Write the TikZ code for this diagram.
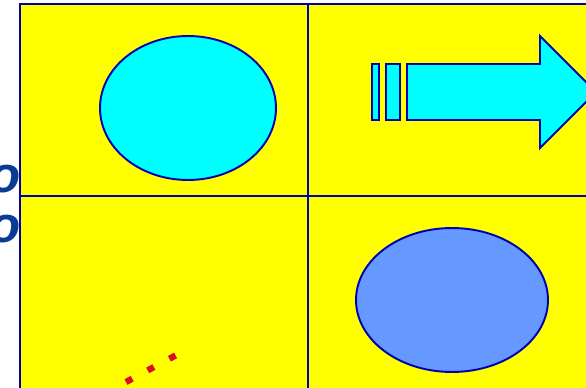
\documentclass[tikz,border=0pt]{standalone}
\usepackage{fontspec}
\newfontfamily\lblfont{Liberation Sans}
\usepackage{tikz}
\usetikzlibrary{shapes.geometric}
\definecolor{lineblue}{HTML}{0000B4}
\definecolor{txtblue}{HTML}{0A3C96}
\definecolor{panelyel}{HTML}{FFFF00}
\definecolor{aqua}{HTML}{00FFFF}
\definecolor{softblue}{HTML}{6699FF}
\definecolor{dotred}{HTML}{DC0A28}

\begin{document}
\begin{tikzpicture}[x=0.02cm, y=-0.02cm,
  edge/.style={draw=lineblue, line width=1.1pt},
  blob/.style={ellipse, edge, fill=#1, inner sep=0pt},
  let/.style={text=txtblue, font=\lblfont\bfseries\itshape\fontsize{29}{29}\selectfont, inner sep=0pt}]
\useasboundingbox (0,0) rectangle (586,388);
\clip (0,0) rectangle (586,388);
% panels
\fill[panelyel] (20,4) rectangle (600,400);
\draw[edge] (20,400) -- (20,4) -- (600,4);
\draw[edge] (308,4) -- (308,400);
\draw[edge] (20,196) -- (600,196);
% shapes
\node[blob=aqua, minimum width=3.52cm, minimum height=2.88cm] (oval) at (188,108) {};
\node[blob=softblue, minimum width=3.84cm, minimum height=2.88cm] (disc) at (452,300) {};
\draw[edge, fill=aqua] (372,64) rectangle (379,120);
\draw[edge, fill=aqua] (386,64) rectangle (400,120);
\draw[edge, fill=aqua] (407,64) -- (540,64) -- (540,36) -- (596,92) -- (540,148) -- (540,120) -- (407,120) -- cycle;
\draw[dotred, line width=3.6pt, dash pattern=on 4pt off 10pt] (126,382) -- (182,352);
% letters at left
\node[let] (o1) at (5,179) {o};
\node[let] (o2) at (5,229) {o};
\end{tikzpicture}
\end{document}
